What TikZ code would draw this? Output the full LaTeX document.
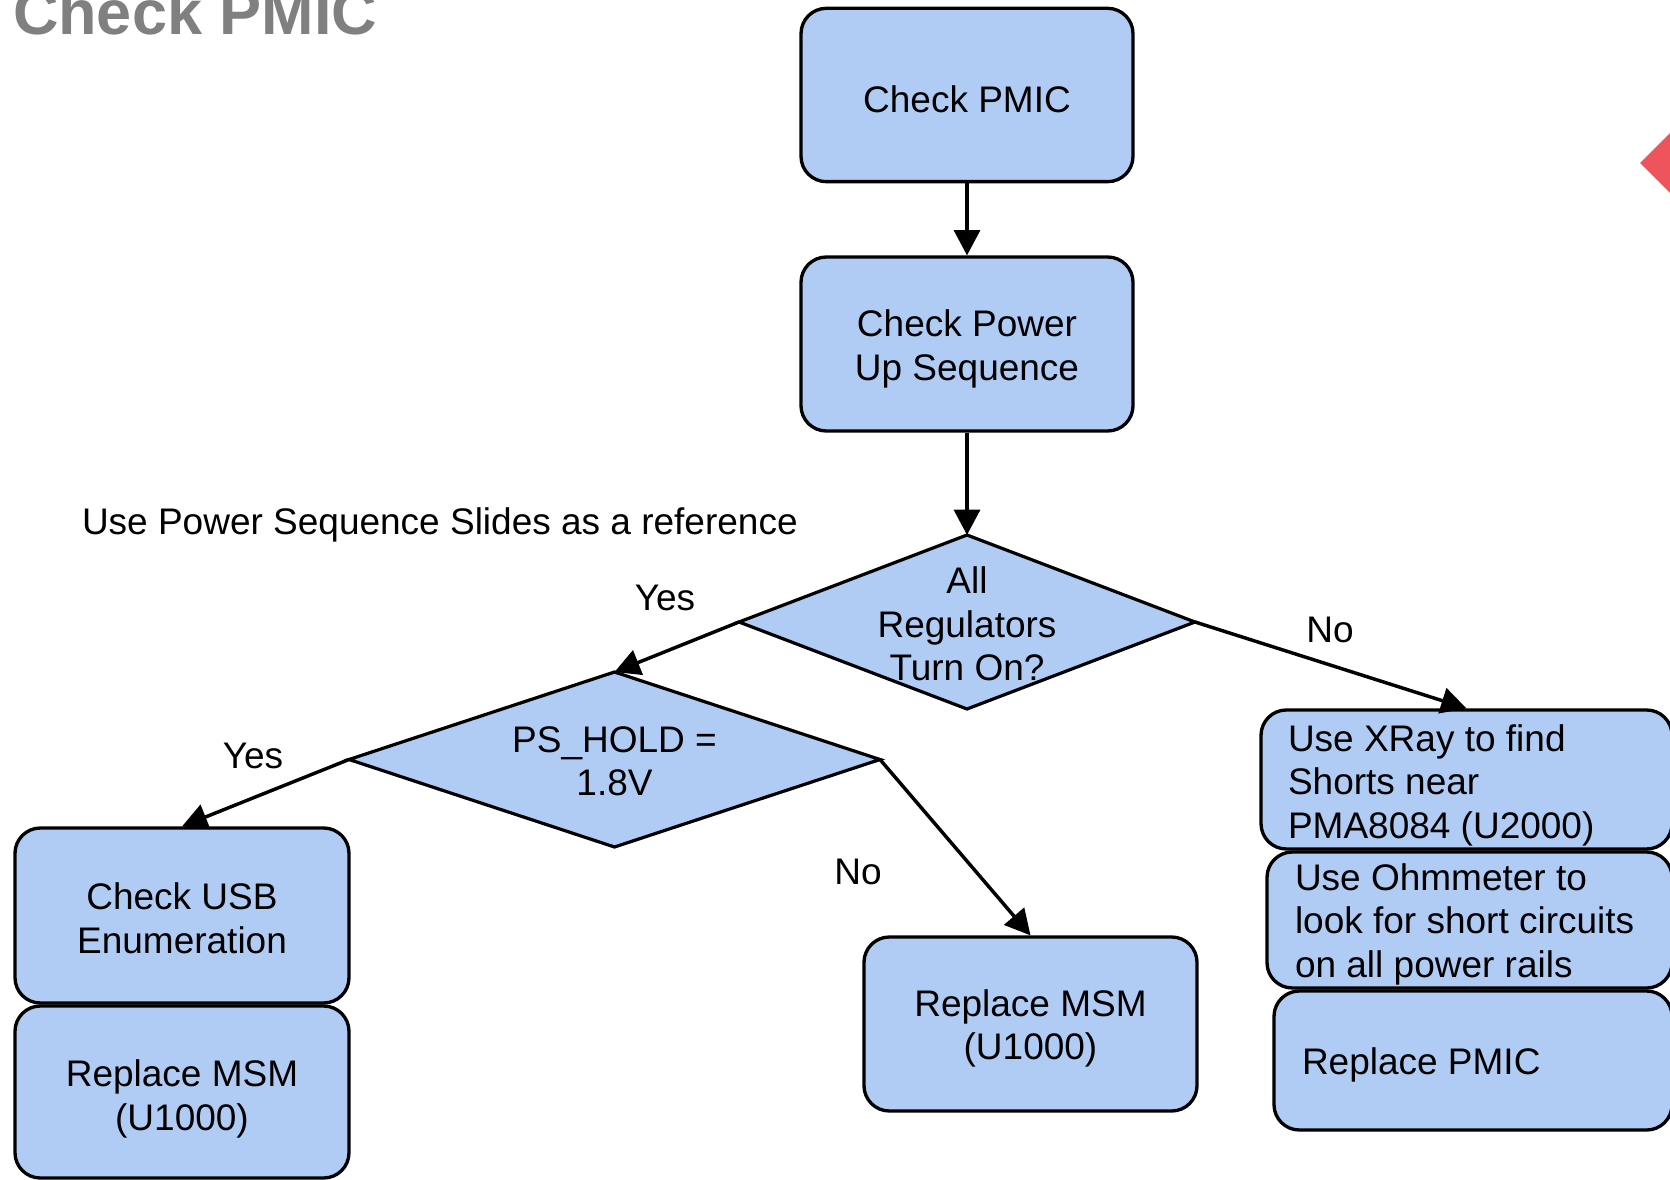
\documentclass[tikz,border=0pt]{standalone}
\usepackage{fontspec}
\setmainfont{Liberation Sans}
\usetikzlibrary{shapes.geometric,arrows.meta}

\definecolor{boxfill}{RGB}{176,204,244}
\definecolor{titlegray}{RGB}{128,128,128}
\definecolor{markred}{RGB}{238,84,92}

\begin{document}
\begin{tikzpicture}[x=0.75pt,y=-0.75pt,
  every node/.style={inner sep=0pt, outer sep=0pt, font=\fontsize{27.75}{32.6}\selectfont},
  box/.style={draw=black, line width=2.5pt, fill=boxfill, rounded corners=19pt, outer sep=1.2pt},
  dia/.style={draw=black, line width=2.4pt, fill=boxfill, diamond},
  txt/.style={align=center},
  ltxt/.style={align=left, anchor=base west},
  flow/.style={line width=2.6pt, -{Triangle[length=19pt,width=19.5pt]}},
]
\useasboundingbox (0,0) rectangle (1670,1180);

% title
\node[anchor=base west, font=\fontsize{47.25}{50}\selectfont\bfseries, text=titlegray] (title) at (13,35) {Check PMIC};

% red marker at the right edge
\fill[markred] (1640,163) -- (1690,113) -- (1690,213) -- cycle;

% main column
\node[box, minimum width=249pt, minimum height=130pt] (pmic) at (967,95) {};
\node[txt] (pmict) at (967,99) {Check PMIC};

\node[box, minimum width=249pt, minimum height=130.5pt] (seq) at (967,344) {};
\node[txt] (seqt) at (967,349) {Check Power\\Up Sequence};

\node[anchor=west] (note) at (82,525) {Use Power Sequence Slides as a reference};

\node[dia, minimum width=342pt, minimum height=130.5pt] (reg) at (967,622) {};
\node[txt] (regt) at (967,624) {All\\Regulators\\Turn On?};

\node[dia, minimum width=398.25pt, minimum height=131.25pt] (hold) at (614.5,759.5) {};
\node[txt] (holdt) at (614.5,761) {PS\_HOLD =\\1.8V};

% left branch
\node[box, minimum width=250.5pt, minimum height=131.25pt] (usb) at (182,915.5) {};
\node[txt] (usbt) at (182,918.5) {Check USB\\Enumeration};

\node[box, minimum width=250.5pt, minimum height=129pt] (msma) at (182,1092) {};
\node[txt] (msmat) at (182,1099) {Replace MSM\\(U1000)};

% middle branch
\node[box, minimum width=249.75pt, minimum height=130.5pt] (msmb) at (1030.5,1024) {};
\node[txt] (msmbt) at (1030.5,1028.5) {Replace MSM\\(U1000)};

% right branch (text set by the baseline of its last line)
\node[box, minimum width=308.25pt, minimum height=104.25pt] (xray) at (1466.5,779.5) {};
\node[ltxt] (xrayt) at (1288,838) {Use XRay to find\\Shorts near\\PMA8084 (U2000)};

\node[box, minimum width=303.75pt, minimum height=102pt] (ohm) at (1469.5,920) {};
\node[ltxt] (ohmt) at (1295,977) {Use Ohmmeter to\\look for short circuits\\on all power rails};

\node[box, minimum width=298.5pt, minimum height=104.25pt] (pmicr) at (1473,1060.5) {};
\node[ltxt] (pmicrt) at (1302,1074) {Replace PMIC};

% branch labels
\node (yes1) at (665,598) {Yes};
\node (no1) at (1330,630) {No};
\node (yes2) at (253,756) {Yes};
\node (no2) at (858,872) {No};

% connectors
\draw[flow] (pmic.south) -- (seq.north);
\draw[flow] (seq.south) -- (reg.north);
\draw[flow] (reg.west) -- (hold.north);
\draw[flow] (reg.east) -- (xray.north);
\draw[flow] (hold.west) -- (usb.north);
\draw[flow] (hold.east) -- (msmb.north);
\end{tikzpicture}
\end{document}
